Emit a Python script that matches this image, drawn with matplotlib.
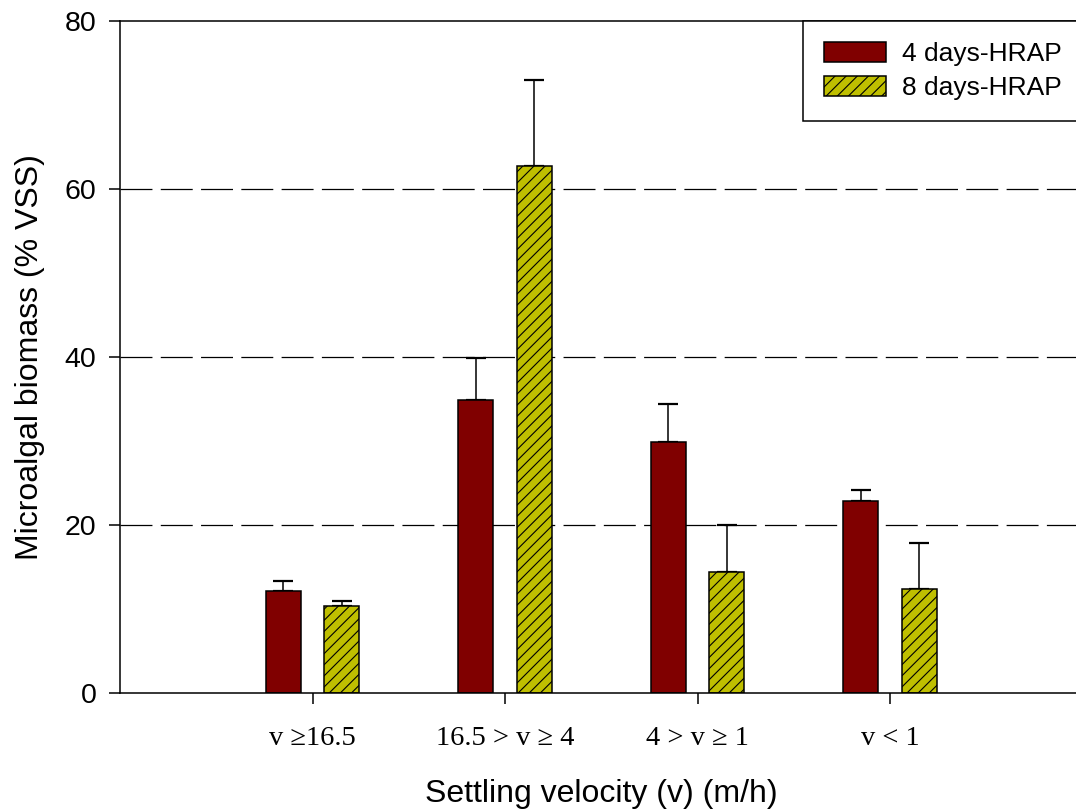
import matplotlib.pyplot as plt
import numpy as np

# data
categories = ["v \u226516.5", "16.5 > v \u2265 4", "4 > v \u2265 1", "v < 1"]
hrap4 = [12.2, 34.9, 29.9, 22.9]
hrap4_err = [1.1, 5.0, 4.5, 1.3]
hrap8 = [10.4, 62.7, 14.4, 12.4]
hrap8_err = [0.5, 10.3, 5.6, 5.5]

plt.rcParams["font.family"] = ["Liberation Sans", "DejaVu Sans"]
plt.rcParams["hatch.linewidth"] = 0.8
plt.rcParams["lines.scale_dashes"] = False

fig = plt.figure(figsize=(10.76, 8.10), dpi=100)
# axes run a bit past the right edge, like the original
ax = fig.add_axes([120 / 1076, (810 - 693) / 810, 962.5 / 1076, 672 / 810])

x = np.arange(1, len(categories) + 1)
w = 0.182
off = 0.151

for y in [20, 40, 60]:
    ax.axhline(y, color="black", lw=0.9, dashes=(23, 6), zorder=0)

ax.bar(x - off, hrap4, w, color="#800000", edgecolor="black", lw=1.1,
       label="4 days-HRAP", zorder=2)
ax.bar(x + off, hrap8, w, color="#BFBF00", edgecolor="black", lw=1.1,
       hatch="///", label="8 days-HRAP", zorder=2)

ax.errorbar(x - off, hrap4, yerr=[np.zeros(4), hrap4_err], fmt="none",
            ecolor="black", elinewidth=1.1, capsize=7.5, capthick=1.6, zorder=1)
ax.errorbar(x + off, hrap8, yerr=[np.zeros(4), hrap8_err], fmt="none",
            ecolor="black", elinewidth=1.1, capsize=7.5, capthick=1.6, zorder=1)

ax.set_xlim(0, 5)
ax.set_ylim(0, 80)
ax.set_yticks([0, 20, 40, 60, 80])
ax.set_xticks(x)
ax.set_xticklabels(categories, family=["Liberation Serif", "DejaVu Serif"],
                   fontsize=20.5)
ax.tick_params(axis="y", direction="out", length=8, width=1.1, labelsize=20.5, pad=9)
ax.tick_params(axis="x", direction="out", length=8, width=1.1, pad=16)
for s in ax.spines.values():
    s.set_linewidth(1.1)

ax.set_xlabel("Settling velocity (v) (m/h)", fontsize=23, labelpad=20)
ax.set_ylabel("Microalgal biomass (% VSS)", fontsize=23, labelpad=14)

leg = ax.legend(loc="upper right", fontsize=19, fancybox=False, framealpha=1,
                edgecolor="black", borderaxespad=0, borderpad=0.8,
                handlelength=2.35, handleheight=0.75, handletextpad=0.6,
                labelspacing=0.38)
leg.get_frame().set_linewidth(1.1)

fig.savefig("out.png", dpi=100)
